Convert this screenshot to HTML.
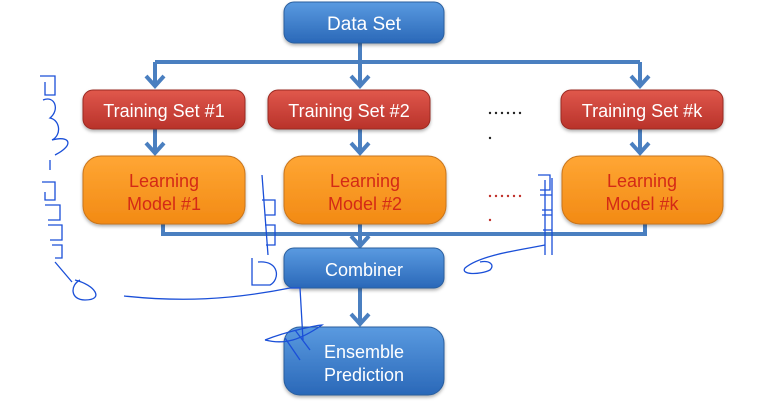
<!DOCTYPE html>
<html><head><meta charset="utf-8"><style>
html,body{margin:0;padding:0;background:#fff;width:761px;height:412px;overflow:hidden}
svg{display:block}
text{font-family:"Liberation Sans",sans-serif}
</style></head><body>
<svg width="761" height="412" viewBox="0 0 761 412" xmlns="http://www.w3.org/2000/svg">
<defs>
<linearGradient id="b" x1="0" y1="0" x2="0" y2="1"><stop offset="0" stop-color="#5a9ae0"/><stop offset="1" stop-color="#2a68b8"/></linearGradient>
<linearGradient id="r" x1="0" y1="0" x2="0" y2="1"><stop offset="0" stop-color="#e0584c"/><stop offset="1" stop-color="#b8322a"/></linearGradient>
<linearGradient id="o" x1="0" y1="0" x2="0" y2="1"><stop offset="0" stop-color="#ffa634"/><stop offset="1" stop-color="#f28a14"/></linearGradient>
<filter id="s" x="-10%" y="-10%" width="120%" height="130%"><feDropShadow dx="0" dy="2" stdDeviation="1.5" flood-color="#000" flood-opacity="0.3"/></filter>
</defs>
<g stroke="#4a7fc0" stroke-width="4" fill="none">
<path d="M360 43V84M155 62H640M155 62V84M640 62V84"/>
<path d="M155 129V151M360 129V151M640 129V151"/>
<path d="M163 210V234H645V210M360 210V244"/>
<path d="M360 288V322"/>
</g>
<g fill="none" stroke="#4a7fc0" stroke-width="4" stroke-linejoin="miter">
<path d="M146 76L155 86L164 76M351 76L360 86L369 76M631 76L640 86L649 76"/>
<path d="M146 143L155 153L164 143M351 143L360 153L369 143M631 143L640 153L649 143"/>
<path d="M351 236L360 246L369 236M351 314L360 324L369 314"/>
</g>
<g filter="url(#s)">
<rect x="284" y="2" width="160" height="41" rx="10" fill="url(#b)" stroke="#2a5e9e"/>
<rect x="83" y="90" width="162" height="39" rx="10" fill="url(#r)" stroke="#9a2a22"/>
<rect x="268" y="90" width="162" height="39" rx="10" fill="url(#r)" stroke="#9a2a22"/>
<rect x="561" y="90" width="162" height="39" rx="10" fill="url(#r)" stroke="#9a2a22"/>
<rect x="83" y="156" width="162" height="68" rx="18" fill="url(#o)" stroke="#c9741a"/>
<rect x="284" y="156" width="162" height="68" rx="18" fill="url(#o)" stroke="#c9741a"/>
<rect x="562" y="156" width="161" height="68" rx="18" fill="url(#o)" stroke="#c9741a"/>
<rect x="284" y="248" width="160" height="40" rx="10" fill="url(#b)" stroke="#2a5e9e"/>
<rect x="284" y="327" width="160" height="68" rx="16" fill="url(#b)" stroke="#2a5e9e"/>
</g>
<text x="364" y="30" text-anchor="middle" fill="#fff" font-size="19">Data Set</text>
<text x="164" y="117" text-anchor="middle" fill="#fff" font-size="18">Training Set #1</text>
<text x="349" y="117" text-anchor="middle" fill="#fff" font-size="18">Training Set #2</text>
<text x="642" y="117" text-anchor="middle" fill="#fff" font-size="18">Training Set #k</text>
<text x="164" y="187" text-anchor="middle" fill="#d42a16" font-size="18">Learning</text>
<text x="164" y="210" text-anchor="middle" fill="#d42a16" font-size="18">Model #1</text>
<text x="365" y="187" text-anchor="middle" fill="#d42a16" font-size="18">Learning</text>
<text x="365" y="210" text-anchor="middle" fill="#d42a16" font-size="18">Model #2</text>
<text x="642" y="187" text-anchor="middle" fill="#d42a16" font-size="18">Learning</text>
<text x="642" y="210" text-anchor="middle" fill="#d42a16" font-size="18">Model #k</text>
<text x="364" y="276" text-anchor="middle" fill="#fff" font-size="18">Combiner</text>
<text x="364" y="358" text-anchor="middle" fill="#fff" font-size="18">Ensemble</text>
<text x="364" y="381" text-anchor="middle" fill="#fff" font-size="18">Prediction</text>
<g fill="#222"><circle cx="490" cy="113" r="1.2"/><circle cx="496" cy="113" r="1.2"/><circle cx="502" cy="113" r="1.2"/><circle cx="508" cy="113" r="1.2"/><circle cx="514" cy="113" r="1.2"/><circle cx="520" cy="113" r="1.2"/><circle cx="490" cy="138" r="1.2"/></g>
<g fill="#c0302a"><circle cx="490" cy="196" r="1.2"/><circle cx="496" cy="196" r="1.2"/><circle cx="502" cy="196" r="1.2"/><circle cx="508" cy="196" r="1.2"/><circle cx="514" cy="196" r="1.2"/><circle cx="520" cy="196" r="1.2"/><circle cx="490" cy="220" r="1.2"/></g>
<g fill="none" stroke="#1a4fd8" stroke-width="1.3">
<path d="M40 76H55V95H45V82M43 100C55 95 60 110 50 118C60 120 62 135 52 140C70 135 75 145 55 155M50 160V170"/>
<path d="M42 182H55V200H45V192M45 205H60V220H48M48 225H62V240H50M52 245H62V258H55M55 262L72 282M75 280C95 285 105 300 85 300C70 300 70 285 80 280"/>
<path d="M124 296C180 302 230 300 290 288H300L303 340"/>
<path d="M265 340C290 330 320 325 322 325C300 340 285 345 265 340M285 338L300 360M295 330L310 350"/>
<path d="M262 175L268 255M262 200H275V215H265M265 225H275V245H266M252 258V285H270C280 280 280 260 258 262"/>
<path d="M538 175H550V190H540M540 195H552V210H542M542 215H552V230H543M545 180V255M552 178V255"/>
<path d="M545 245C520 250 480 255 465 268C460 275 480 275 490 270C495 265 490 260 480 262"/>
</g>
</svg>
</body></html>
